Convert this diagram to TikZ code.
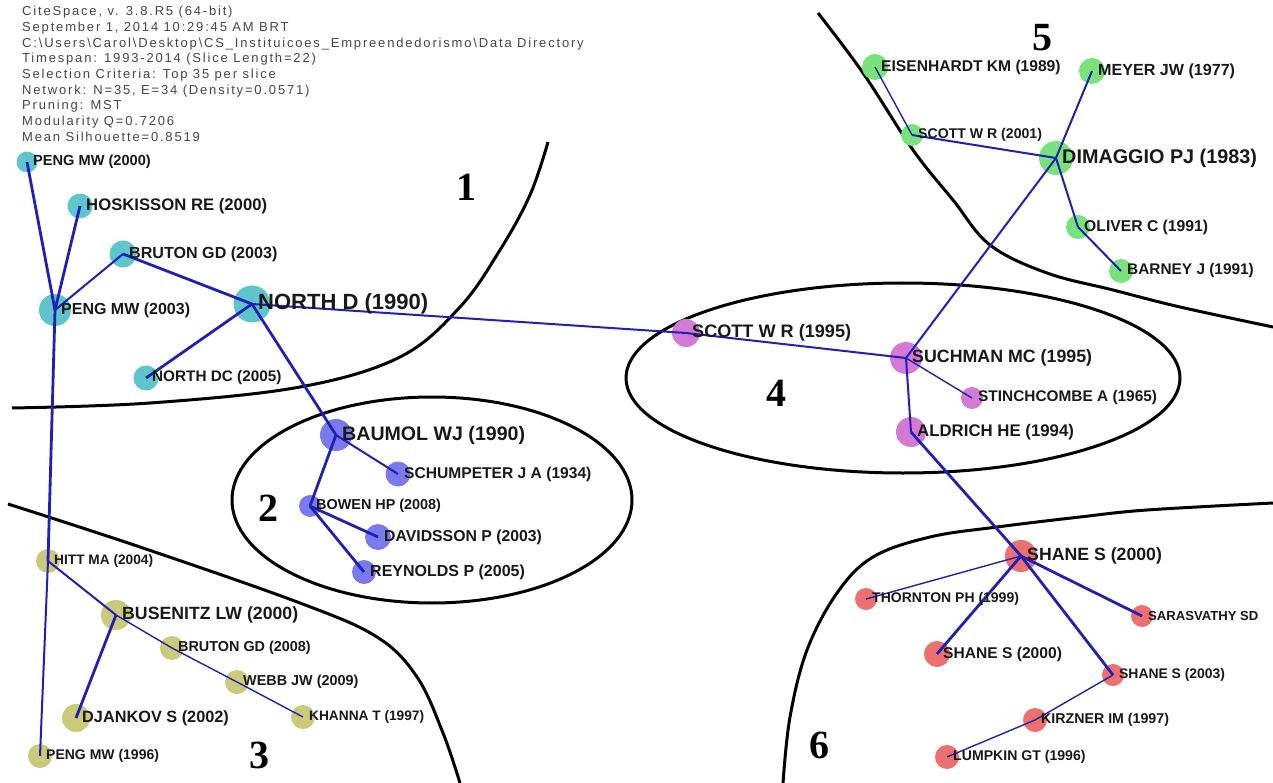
\documentclass[tikz,border=0pt]{standalone}
\usepackage{fontspec}
\setmainfont{Liberation Sans}
\newfontfamily\hdrfont[LetterSpace=14]{Liberation Sans}
\newfontfamily\numfont{Liberation Serif}
\definecolor{cone}{RGB}{95,196,204}
\definecolor{ctwo}{RGB}{122,122,236}
\definecolor{cthree}{RGB}{202,202,122}
\definecolor{cfour}{RGB}{212,122,212}
\definecolor{cfive}{RGB}{122,226,122}
\definecolor{csix}{RGB}{236,112,112}
\definecolor{edgeblue}{RGB}{32,32,182}
\definecolor{hdrgray}{RGB}{70,70,70}
\definecolor{labblack}{RGB}{25,25,25}
\tikzset{
  dot/.style={circle, draw=none, inner sep=0pt},
  lbl/.style={anchor=west, inner sep=0pt, text=labblack, font=\bfseries\fontsize{#1}{#1}\selectfont},
  ethick/.style={draw=edgeblue, line width=2.8pt},
  emed/.style={draw=edgeblue, line width=2pt},
  ethin/.style={draw=edgeblue, line width=1.4pt},
  border/.style={draw=black, line width=3pt},
  regnum/.style={inner sep=0pt, font=\numfont\bfseries\fontsize{40}{40}\selectfont}
}
\newcommand{\citedot}[5]{\node[dot, fill=#5, minimum size=#4pt] (#1) at (#2,#3) {};}
\newcommand{\citelab}[3]{\node[lbl=#2] (#1-l) at ([xshift=6pt]#1.center) {#3};}
\begin{document}
\begin{tikzpicture}[x=1pt,y=-1pt]
\fill[white] (0,0) rectangle (1273,783);
\useasboundingbox (0,0) rectangle (1273,783);

% header
\node[anchor=north west, align=left, inner sep=0pt, text=hdrgray,
      font=\hdrfont\fontsize{13}{13.9}\selectfont] (hdr) at (22,6) {%
CiteSpace, v. 3.8.R5 (64-bit)\\[1.8pt]
September 1, 2014 10:29:45 AM BRT\\[1.8pt]
C:\textbackslash Users\textbackslash Carol\textbackslash Desktop\textbackslash CS\_Instituicoes\_Empreendedorismo\textbackslash Data Directory\\[1.8pt]
Timespan: 1993-2014 (Slice Length=22)\\[1.8pt]
Selection Criteria: Top 35 per slice\\[1.8pt]
Network: N=35, E=34 (Density=0.0571)\\[1.8pt]
Pruning: MST\\[1.8pt]
Modularity Q=0.7206\\[1.8pt]
Mean Silhouette=0.8519};

% cluster boundaries
\draw[border] plot[smooth, tension=0.6] coordinates {(12,408) (150,403) (300,387) (400,357) (460,307) (500,250) (530,195) (548,142)};
\draw[border] plot[smooth, tension=0.6] coordinates {(8,504) (140,547) (300,603) (377,637) (417,677) (443,733) (460,783)};
\draw[border] plot[smooth, tension=0.6] coordinates {(818,13) (863,73) (913,150) (953,200) (990,245) (1047,273) (1113,290) (1180,307) (1273,327)};
\draw[border] plot[smooth, tension=0.6] coordinates {(783,783) (790,717) (807,650) (837,593) (873,557) (930,537) (997,527) (1080,517) (1147,510) (1273,503)};
\draw[border] (432,500) ellipse [x radius=200pt, y radius=103pt];
\draw[border] (903,378) ellipse [x radius=277pt, y radius=95pt];

% region numbers
\node[regnum] (n1) at (466,187) {1};
\node[regnum] (n2) at (268,508) {2};
\node[regnum] (n3) at (259,755) {3};
\node[regnum] (n4) at (776,393) {4};
\node[regnum] (n5) at (1042,38) {5};
\node[regnum] (n6) at (819,745) {6};

% nodes
\citedot{peng00}{27}{162}{21}{cone}
\citedot{hosk}{80}{206}{25}{cone}
\citedot{bruton03}{123}{254}{27}{cone}
\citedot{peng03}{55}{310}{32}{cone}
\citedot{northd}{252}{304}{37}{cone}
\citedot{northdc}{146}{378}{25}{cone}
\citedot{baumol}{336}{435}{32}{ctwo}
\citedot{schump}{398}{474}{25}{ctwo}
\citedot{bowen}{310}{506}{22}{ctwo}
\citedot{dav}{378}{537}{26}{ctwo}
\citedot{rey}{364}{572}{24}{ctwo}
\citedot{hitt}{48}{561}{24}{cthree}
\citedot{busen}{116}{615}{30}{cthree}
\citedot{bruton08}{172}{648}{24}{cthree}
\citedot{webb}{237}{682}{24}{cthree}
\citedot{khanna}{303}{717}{24}{cthree}
\citedot{djankov}{76}{718}{28}{cthree}
\citedot{peng96}{40}{756}{24}{cthree}
\citedot{scott95}{686}{333}{28}{cfour}
\citedot{such}{906}{358}{32}{cfour}
\citedot{stinch}{972}{398}{22}{cfour}
\citedot{aldrich}{911}{432}{30}{cfour}
\citedot{eisen}{875}{67}{26}{cfive}
\citedot{meyer}{1092}{71}{26}{cfive}
\citedot{scott01}{912}{135}{22}{cfive}
\citedot{dimag}{1056}{158}{34}{cfive}
\citedot{oliver}{1078}{227}{24}{cfive}
\citedot{barney}{1121}{271}{24}{cfive}
\citedot{shane}{1021}{556}{32}{csix}
\citedot{thornton}{866}{599}{22}{csix}
\citedot{saras}{1142}{616}{22}{csix}
\citedot{shaneb}{937}{654}{26}{csix}
\citedot{shane03}{1113}{675}{22}{csix}
\citedot{kirz}{1035}{720}{24}{csix}
\citedot{lumpkin}{947}{757}{24}{csix}

% edges
\draw[ethick] (peng00.center) -- (peng03.center);
\draw[ethick] (hosk.center) -- (peng03.center);
\draw[emed] (bruton03.center) -- (peng03.center);
\draw[ethick] (bruton03.center) -- (northd.center);
\draw[ethick] (northd.center) -- (northdc.center);
\draw[ethick] (northd.center) -- (baumol.center);
\draw[emed] (northd.center) -- (scott95.center);
\draw[ethick] (peng03.center) -- (hitt.center);
\draw[emed] (hitt.center) -- (peng96.center);
\draw[emed] (hitt.center) -- (busen.center);
\draw[ethick] (busen.center) -- (djankov.center);
\draw[ethin] (busen.center) -- (bruton08.center);
\draw[ethin] (bruton08.center) -- (webb.center);
\draw[ethin] (webb.center) -- (khanna.center);
\draw[emed] (baumol.center) -- (schump.center);
\draw[ethick] (baumol.center) -- (bowen.center);
\draw[ethick] (bowen.center) -- (dav.center);
\draw[ethick] (bowen.center) -- (rey.center);
\draw[emed] (scott95.center) -- (such.center);
\draw[emed] (such.center) -- (dimag.center);
\draw[ethin] (such.center) -- (stinch.center);
\draw[emed] (such.center) -- (aldrich.center);
\draw[ethick] (aldrich.center) -- (shane.center);
\draw[emed] (dimag.center) -- (meyer.center);
\draw[emed] (dimag.center) -- (scott01.center);
\draw[ethin] (scott01.center) -- (eisen.center);
\draw[emed] (dimag.center) -- (oliver.center);
\draw[emed] (oliver.center) -- (barney.center);
\draw[ethin] (shane.center) -- (thornton.center);
\draw[ethick] (shane.center) -- (shaneb.center);
\draw[ethick] (shane.center) -- (saras.center);
\draw[ethick] (shane.center) -- (shane03.center);
\draw[ethin] (shane03.center) -- (kirz.center);
\draw[ethin] (kirz.center) -- (lumpkin.center);

% labels
\citelab{peng00}{14.6}{PENG MW (2000)}
\citelab{hosk}{16.7}{HOSKISSON RE (2000)}
\citelab{bruton03}{16.1}{BRUTON GD (2003)}
\citelab{peng03}{16}{PENG MW (2003)}
\citelab{northd}{22}{NORTH D (1990)}
\citelab{northdc}{15.3}{NORTH DC (2005)}
\citelab{baumol}{19.6}{BAUMOL WJ (1990)}
\citelab{schump}{15.6}{SCHUMPETER J A (1934)}
\citelab{bowen}{14.4}{BOWEN HP (2008)}
\citelab{dav}{15.8}{DAVIDSSON P (2003)}
\citelab{rey}{16}{REYNOLDS P (2005)}
\citelab{hitt}{13.7}{HITT MA (2004)}
\citelab{busen}{17.7}{BUSENITZ LW (2000)}
\citelab{bruton08}{14.4}{BRUTON GD (2008)}
\citelab{webb}{14.4}{WEBB JW (2009)}
\citelab{khanna}{13.7}{KHANNA T (1997)}
\citelab{djankov}{16.3}{DJANKOV S (2002)}
\citelab{peng96}{14}{PENG MW (1996)}
\citelab{scott95}{18.1}{SCOTT W R (1995)}
\citelab{such}{17.8}{SUCHMAN MC (1995)}
\citelab{stinch}{15.4}{STINCHCOMBE A (1965)}
\citelab{aldrich}{16.8}{ALDRICH HE (1994)}
\citelab{eisen}{15.6}{EISENHARDT KM (1989)}
\citelab{meyer}{16.1}{MEYER JW (1977)}
\citelab{scott01}{14.1}{SCOTT W R (2001)}
\citelab{dimag}{19.8}{DIMAGGIO PJ (1983)}
\citelab{oliver}{15.7}{OLIVER C (1991)}
\citelab{barney}{15.4}{BARNEY J (1991)}
\citelab{shane}{17.7}{SHANE S (2000)}
\citelab{thornton}{14}{THORNTON PH (1999)}
\citelab{saras}{13.1}{SARASVATHY SD}
\citelab{shaneb}{15.6}{SHANE S (2000)}
\citelab{shane03}{13.9}{SHANE S (2003)}
\citelab{kirz}{14.2}{KIRZNER IM (1997)}
\citelab{lumpkin}{14.1}{LUMPKIN GT (1996)}
\end{tikzpicture}
\end{document}
